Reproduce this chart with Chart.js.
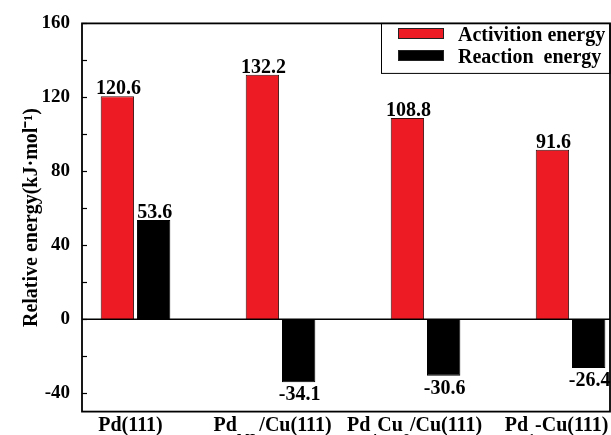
<!DOCTYPE html>
<html>
<head>
<meta charset="utf-8">
<script src="https://cdn.jsdelivr.net/npm/chart.js@4/dist/chart.umd.min.js"></script>
<style>
  html, body { margin: 0; padding: 0; background: #fff; overflow: hidden; }
</style>
</head>
<body>
<canvas id="c" width="611" height="435"></canvas>
<script>
// Catalyst surfaces; each label is split into [text, isSubscript] runs
const categories = [
  [["Pd(111)", false]],
  [["Pd", false], ["ML", true], ["/Cu(111)", false]],
  [["Pd", false], ["4", true], ["Cu", false], ["8", true], ["/Cu(111)", false]],
  [["Pd", false], ["1", true], ["-Cu(111)", false]]
];
const activationEnergy = [120.6, 132.2, 108.8, 91.6];
const reactionEnergy = [53.6, -34.1, -30.6, -26.4];
const seriesNames = ["Activition energy", "Reaction  energy"];
const yTickLabels = [-40, 0, 40, 80, 120, 160];
const yMinorTicks = [-40, -20, 0, 20, 40, 60, 80, 100, 120, 140, 160];

const SERIF = '"Liberation Serif", "Times New Roman", serif';
const RED = '#ED1C24';
const BLACK = '#000000';

const toPoints = arr => arr.map((v, i) => ({ x: i, y: v }));

// Frame, zero line and inward tick marks
const framePlugin = {
  id: 'frame',
  afterDatasetsDraw(chart) {
    const { ctx, chartArea: a, scales: { y } } = chart;
    ctx.save();
    ctx.strokeStyle = '#000';
    // zero line
    ctx.lineWidth = 1.5;
    const y0 = y.getPixelForValue(0);
    ctx.beginPath();
    ctx.moveTo(a.left, y0);
    ctx.lineTo(a.right, y0);
    ctx.stroke();
    // ticks
    ctx.lineWidth = 1.2;
    yMinorTicks.forEach(v => {
      const py = Math.round(y.getPixelForValue(v)) + 0.5;
      ctx.beginPath();
      ctx.moveTo(a.left, py);
      ctx.lineTo(a.left + 5, py);
      ctx.stroke();
    });
    // frame
    ctx.lineWidth = 1.8;
    ctx.strokeRect(a.left, a.top, a.right - a.left, a.bottom - a.top);
    ctx.restore();
  }
};

// Numeric labels on every bar
const valueLabelPlugin = {
  id: 'valueLabels',
  afterDatasetsDraw(chart) {
    const { ctx } = chart;
    ctx.save();
    ctx.font = 'bold 20px ' + SERIF;
    ctx.fillStyle = '#000';
    ctx.textAlign = 'center';
    chart.data.datasets.forEach((ds, di) => {
      const meta = chart.getDatasetMeta(di);
      meta.data.forEach((bar, i) => {
        const v = ds.data[i].y;
        const txt = v.toFixed(1);
        if (v >= 0) {
          ctx.textBaseline = 'alphabetic';
          ctx.fillText(txt, bar.x + 1, bar.y - 2);
        } else {
          ctx.textBaseline = 'top';
          ctx.fillText(txt, bar.x + 1, bar.y + 3);
        }
      });
    });
    ctx.restore();
  }
};

// Category labels with subscripts under the axis
const xLabelPlugin = {
  id: 'xLabels',
  afterDraw(chart) {
    const { ctx, scales: { x } } = chart;
    const mainFont = 'bold 20px ' + SERIF;
    const subFont = 'bold 14px ' + SERIF;
    ctx.save();
    ctx.fillStyle = '#000';
    ctx.textBaseline = 'alphabetic';
    ctx.textAlign = 'left';
    categories.forEach((runs, i) => {
      let w = 0;
      runs.forEach(([t, sub]) => { ctx.font = sub ? subFont : mainFont; w += ctx.measureText(t).width; });
      let px = x.getPixelForValue(i) - 5 - 3 * i - w / 2;
      runs.forEach(([t, sub]) => {
        ctx.font = sub ? subFont : mainFont;
        ctx.fillText(t, px, sub ? 444 : 431);
        px += ctx.measureText(t).width;
      });
    });
    ctx.restore();
  }
};

// Boxed legend in the upper right corner of the plot
const legendPlugin = {
  id: 'boxLegend',
  afterDraw(chart) {
    const { ctx, chartArea: a } = chart;
    ctx.save();
    ctx.strokeStyle = '#000';
    ctx.lineWidth = 1;
    ctx.strokeRect(381.5, a.top, a.right - 381.5, 50);
    const colors = [RED, BLACK];
    ctx.font = 'bold 20px ' + SERIF;
    ctx.textBaseline = 'alphabetic';
    ctx.textAlign = 'left';
    seriesNames.forEach((name, i) => {
      const top = 28 + i * 22;
      ctx.fillStyle = colors[i];
      ctx.fillRect(398, top, 46, 11);
      ctx.strokeStyle = '#222';
      ctx.strokeRect(398.5, top + 0.5, 45, 10);
      ctx.fillStyle = '#000';
      ctx.fillText(name, 458, top + 13);
    });
    ctx.restore();
  }
};

new Chart(document.getElementById('c'), {
  type: 'bar',
  data: {
    datasets: [
      {
        label: seriesNames[0],
        data: toPoints(activationEnergy),
        backgroundColor: RED,
        borderColor: '#3a1010',
        borderWidth: 1
      },
      {
        label: seriesNames[1],
        data: toPoints(reactionEnergy),
        backgroundColor: BLACK,
        borderColor: BLACK,
        borderWidth: 1
      }
    ]
  },
  options: {
    responsive: false,
    animation: false,
    devicePixelRatio: 1,
    categoryPercentage: 0.5,
    barPercentage: 0.92,
    layout: { padding: { top: 23, right: 1, bottom: 23, left: 0 } },
    plugins: { legend: { display: false }, tooltip: { enabled: false } },
    scales: {
      x: {
        type: 'linear',
        min: -0.369,
        max: 3.272,
        offset: false,
        display: false,
        afterBuildTicks(s) { s.ticks = categories.map((c, i) => ({ value: i })); }
      },
      y: {
        min: -50,
        max: 160,
        afterFit(s) { s.width = 82; },
        afterBuildTicks(s) { s.ticks = yTickLabels.map(v => ({ value: v })); },
        grid: { display: false, drawTicks: false },
        border: { display: false },
        ticks: {
          padding: 12,
          color: '#000',
          font: { family: SERIF, size: 19, weight: 'bold' }
        },
        title: {
          display: true,
          text: 'Relative energy(kJ·mol⁻¹)',
          color: '#000',
          font: { family: SERIF, size: 20, weight: 'bold' },
          padding: { top: 20, bottom: 0 }
        }
      }
    }
  },
  plugins: [framePlugin, valueLabelPlugin, xLabelPlugin, legendPlugin]
});
</script>
</body>
</html>
